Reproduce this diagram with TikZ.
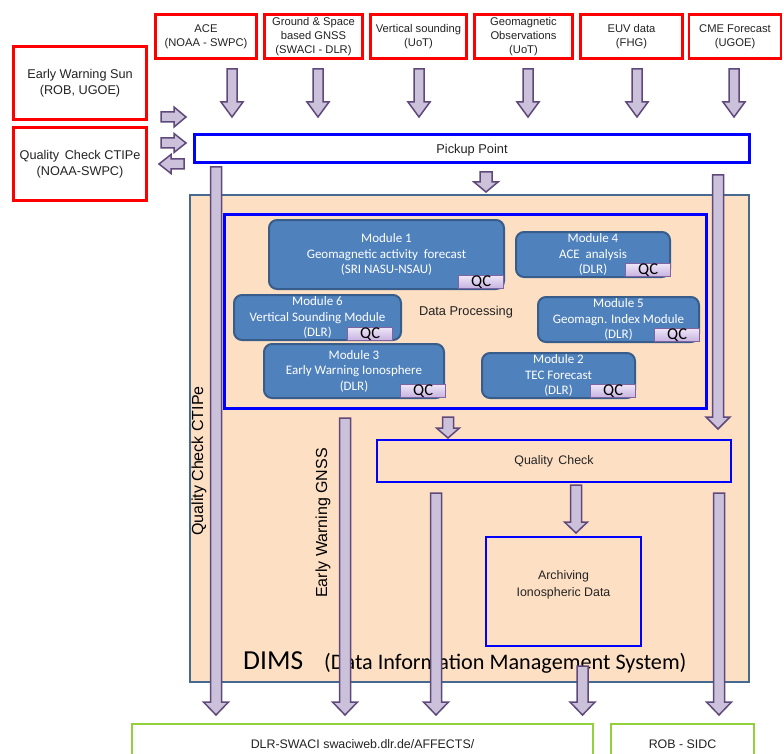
\documentclass[tikz,border=0pt]{standalone}
\usepackage{fontspec}
\setmainfont{Liberation Sans}
\newfontfamily\calib{Carlito}
\definecolor{arrfill}{RGB}{204,193,218}
\definecolor{arrdraw}{RGB}{95,73,122}
\definecolor{dimsfill}{RGB}{253,223,196}
\definecolor{dimsdraw}{RGB}{70,105,145}
\definecolor{modfill}{RGB}{79,129,189}
\definecolor{moddraw}{RGB}{56,93,138}
\definecolor{qctop}{RGB}{238,230,247}
\definecolor{qcbot}{RGB}{198,178,224}
\definecolor{qcdraw}{RGB}{128,100,162}
\definecolor{grn}{RGB}{146,208,60}
\definecolor{txt}{RGB}{35,35,35}
\tikzset{
  redbox/.style={draw=red, line width=2.8pt, inner sep=0pt, align=center, text=txt, font=\fontsize{11.2}{14.3}\selectfont},
  bluebox/.style={draw=blue, line width=2.5pt, inner sep=0pt, align=center, text=txt, font=\fontsize{12.6}{16}\selectfont},
  greenbox/.style={draw=grn, line width=2.8pt, inner sep=0pt, align=center, text=txt, font=\fontsize{12.4}{15}\selectfont},
  modbox/.style={fill=modfill, draw=moddraw, line width=2pt, rounded corners=8pt, inner sep=0pt, align=center, text=white, font=\calib\fontsize{13}{15.5}\selectfont},
  qcbox/.style={top color=qctop, bottom color=qcbot, draw=qcdraw, line width=0.8pt, minimum width=45pt, minimum height=13pt, inner sep=0pt, anchor=south east, font=\calib\fontsize{16.5}{16.5}\selectfont, text=black},
  fatarrow/.style={fill=arrfill, draw=arrdraw, line width=1.5pt, line join=miter},
  plain/.style={inner sep=0pt, text=txt}
}
% vertical fat arrow: x, ytop, ytip, half shaft, half head, head length
\newcommand\fatv[6]{\draw[fatarrow] ({#1-#4},#2) -- ({#1+#4},#2) -- ({#1+#4},{#3-#6}) -- ({#1+#5},{#3-#6}) -- (#1,#3) -- ({#1-#5},{#3-#6}) -- ({#1-#4},{#3-#6}) -- cycle;}
% horizontal right arrow: xtail, xtip, y, half shaft, half head, head length
\newcommand\fathr[6]{\draw[fatarrow] (#1,{#3-#4}) -- ({#2-#6},{#3-#4}) -- ({#2-#6},{#3-#5}) -- (#2,#3) -- ({#2-#6},{#3+#5}) -- ({#2-#6},{#3+#4}) -- (#1,{#3+#4}) -- cycle;}
% horizontal left arrow
\newcommand\fathl[6]{\draw[fatarrow] (#1,{#3-#4}) -- ({#2+#6},{#3-#4}) -- ({#2+#6},{#3-#5}) -- (#2,#3) -- ({#2+#6},{#3+#5}) -- ({#2+#6},{#3+#4}) -- (#1,{#3+#4}) -- cycle;}
\begin{document}
\begin{tikzpicture}[x=1pt,y=-1pt]
\useasboundingbox[fill=white] (0,0) rectangle (784,754);

% source boxes
\node[redbox, minimum width=101pt, minimum height=44pt] (ace) at (206,36.5) {ACE\\(NOAA - SWPC)};
\node[redbox, minimum width=98pt, minimum height=44pt] (gnss) at (313.5,36.5) {Ground \& Space\\based GNSS\\(SWACI - DLR)};
\node[redbox, minimum width=96pt, minimum height=44pt] (vert) at (418.5,36.5) {Vertical sounding\\(UoT)};
\node[redbox, minimum width=98pt, minimum height=44pt] (geo) at (523.5,36.5) {Geomagnetic\\Observations\\(UoT)};
\node[redbox, minimum width=102pt, minimum height=44pt] (euv) at (631.5,36.5) {EUV data\\(FHG)};
\node[redbox, minimum width=92pt, minimum height=44pt] (cme) at (735,36.5) {CME Forecast\\(UGOE)};

\node[redbox, minimum width=133pt, minimum height=73pt, font=\fontsize{12.7}{15.5}\selectfont] (ews) at (80,83) {Early Warning Sun\\(ROB, UGOE)};
\node[redbox, minimum width=133pt, minimum height=73pt, font=\fontsize{12.7}{15.5}\selectfont] (qcc) at (80,164) {Quality\, Check CTIPe\\(NOAA-SWPC)};

% pickup
\node[bluebox, minimum width=555pt, minimum height=28pt, font=\fontsize{12.8}{15}\selectfont, text depth=0pt] (pick) at (472,148.5) {Pickup Point};

% DIMS
\node[fill=dimsfill, draw=dimsdraw, line width=2pt, minimum width=559pt, minimum height=487pt, inner sep=0pt] (dims) at (469.5,438.5) {};
\node[bluebox, minimum width=482pt, minimum height=194pt] (dp) at (465.5,311.5) {};
\node[plain, font=\fontsize{12.8}{15}\selectfont] (dptxt) at (466,312) {Data Processing};

% modules
\node[modbox, minimum width=235pt, minimum height=69pt] (m1) at (386.5,254.5) {Module 1\\Geomagnetic activity\ \ forecast\\(SRI NASU-NSAU)};
\node[modbox, minimum width=167pt, minimum height=45pt] (m6) at (317.5,317.5) {Module 6\\Vertical Sounding Module\\(DLR)};
\node[modbox, minimum width=180pt, minimum height=54pt] (m3) at (354,371) {Module 3\\Early Warning Ionosphere\\(DLR)};
\node[modbox, minimum width=154pt, minimum height=45pt] (m4) at (593,254.5) {Module 4\\ACE\ \ analysis\\(DLR)};
\node[modbox, minimum width=161pt, minimum height=45pt] (m5) at (618.5,319.5) {Module 5\\Geomagn. Index Module\\(DLR)};
\node[modbox, minimum width=153pt, minimum height=45pt] (m2) at (558.5,375.5) {Module 2\\TEC Forecast\\(DLR)};

\node[qcbox] (q1) at ([xshift=-1pt,yshift=1pt]m1.south east) {QC};
\node[qcbox] (q6) at ([xshift=-9pt,yshift=0pt]m6.south east) {QC};
\node[qcbox] (q3) at ([xshift=1pt,yshift=1pt]m3.south east) {QC};
\node[qcbox] (q4) at ([xshift=0pt,yshift=1pt]m4.south east) {QC};
\node[qcbox] (q5) at ([xshift=0pt,yshift=1pt]m5.south east) {QC};
\node[qcbox] (q2) at ([xshift=0pt,yshift=1pt]m2.south east) {QC};

% quality check and archiving
\node[bluebox, minimum width=354pt, minimum height=42pt, font=\fontsize{12.4}{15}\selectfont] (qc) at (554,461) {Quality\, Check};
\node[bluebox, minimum width=155pt, minimum height=109pt] (arch) at (563.5,591.5) {};
\node[plain, align=center, font=\fontsize{12.4}{16.5}\selectfont] (archtxt) at (563.5,585) {Archiving\\Ionospheric Data};

% labels
\node[plain, anchor=base west, font=\calib\fontsize{27.5}{30}\selectfont, text=black] (dimst) at (243,669) {DIMS};
\node[plain, anchor=base west, font=\calib\fontsize{22.2}{24}\selectfont, text=black] (dimsl) at (324,669) {(Data Information Management System)};
\node[plain, rotate=90, font=\fontsize{16}{18}\selectfont, text=black] (lqc) at (199,461) {Quality Check CTIPe};
\node[plain, rotate=90, font=\fontsize{16}{18}\selectfont, text=black] (lgnss) at (323,523) {Early Warning GNSS};

% outputs
\node[greenbox, minimum width=461pt, minimum height=40pt] (swaci) at (362.5,744) {DLR-SWACI swaciweb.dlr.de/AFFECTS/};
\node[greenbox, minimum width=143pt, minimum height=40pt] (rob) at (682.5,744) {ROB\ - SIDC};

% arrows from sources
\fatv{232}{69}{117}{5}{11}{15}
\fatv{318}{69}{117}{5}{11}{15}
\fatv{419}{69}{117}{5}{11}{15}
\fatv{528}{69}{117}{5}{11}{15}
\fatv{637}{69}{117}{5}{11}{15}
\fatv{734}{69}{117}{5}{11}{15}
% side arrows
\fathr{161}{186}{117}{5}{10}{12}
\fathr{161}{186}{143}{5}{9.5}{12}
\fathl{184}{159}{164}{5}{9.5}{12}
% internal arrows
\fatv{486}{172}{192}{6}{12}{10}
\fatv{448}{417}{438}{5.5}{11.5}{10}
\fatv{576}{485}{533}{5.5}{11.5}{11}
\fatv{718}{175}{429}{5.5}{12}{12}
% long arrows
\fatv{216}{167}{715}{5.5}{12.5}{13}
\fatv{345}{418}{715}{5.5}{12.5}{13}
\fatv{436}{493}{715}{5.5}{12.5}{13}
\fatv{582.5}{666}{715}{5.5}{12.5}{13}
\fatv{719}{493}{715}{5.5}{12.5}{13}
\end{tikzpicture}
\end{document}
